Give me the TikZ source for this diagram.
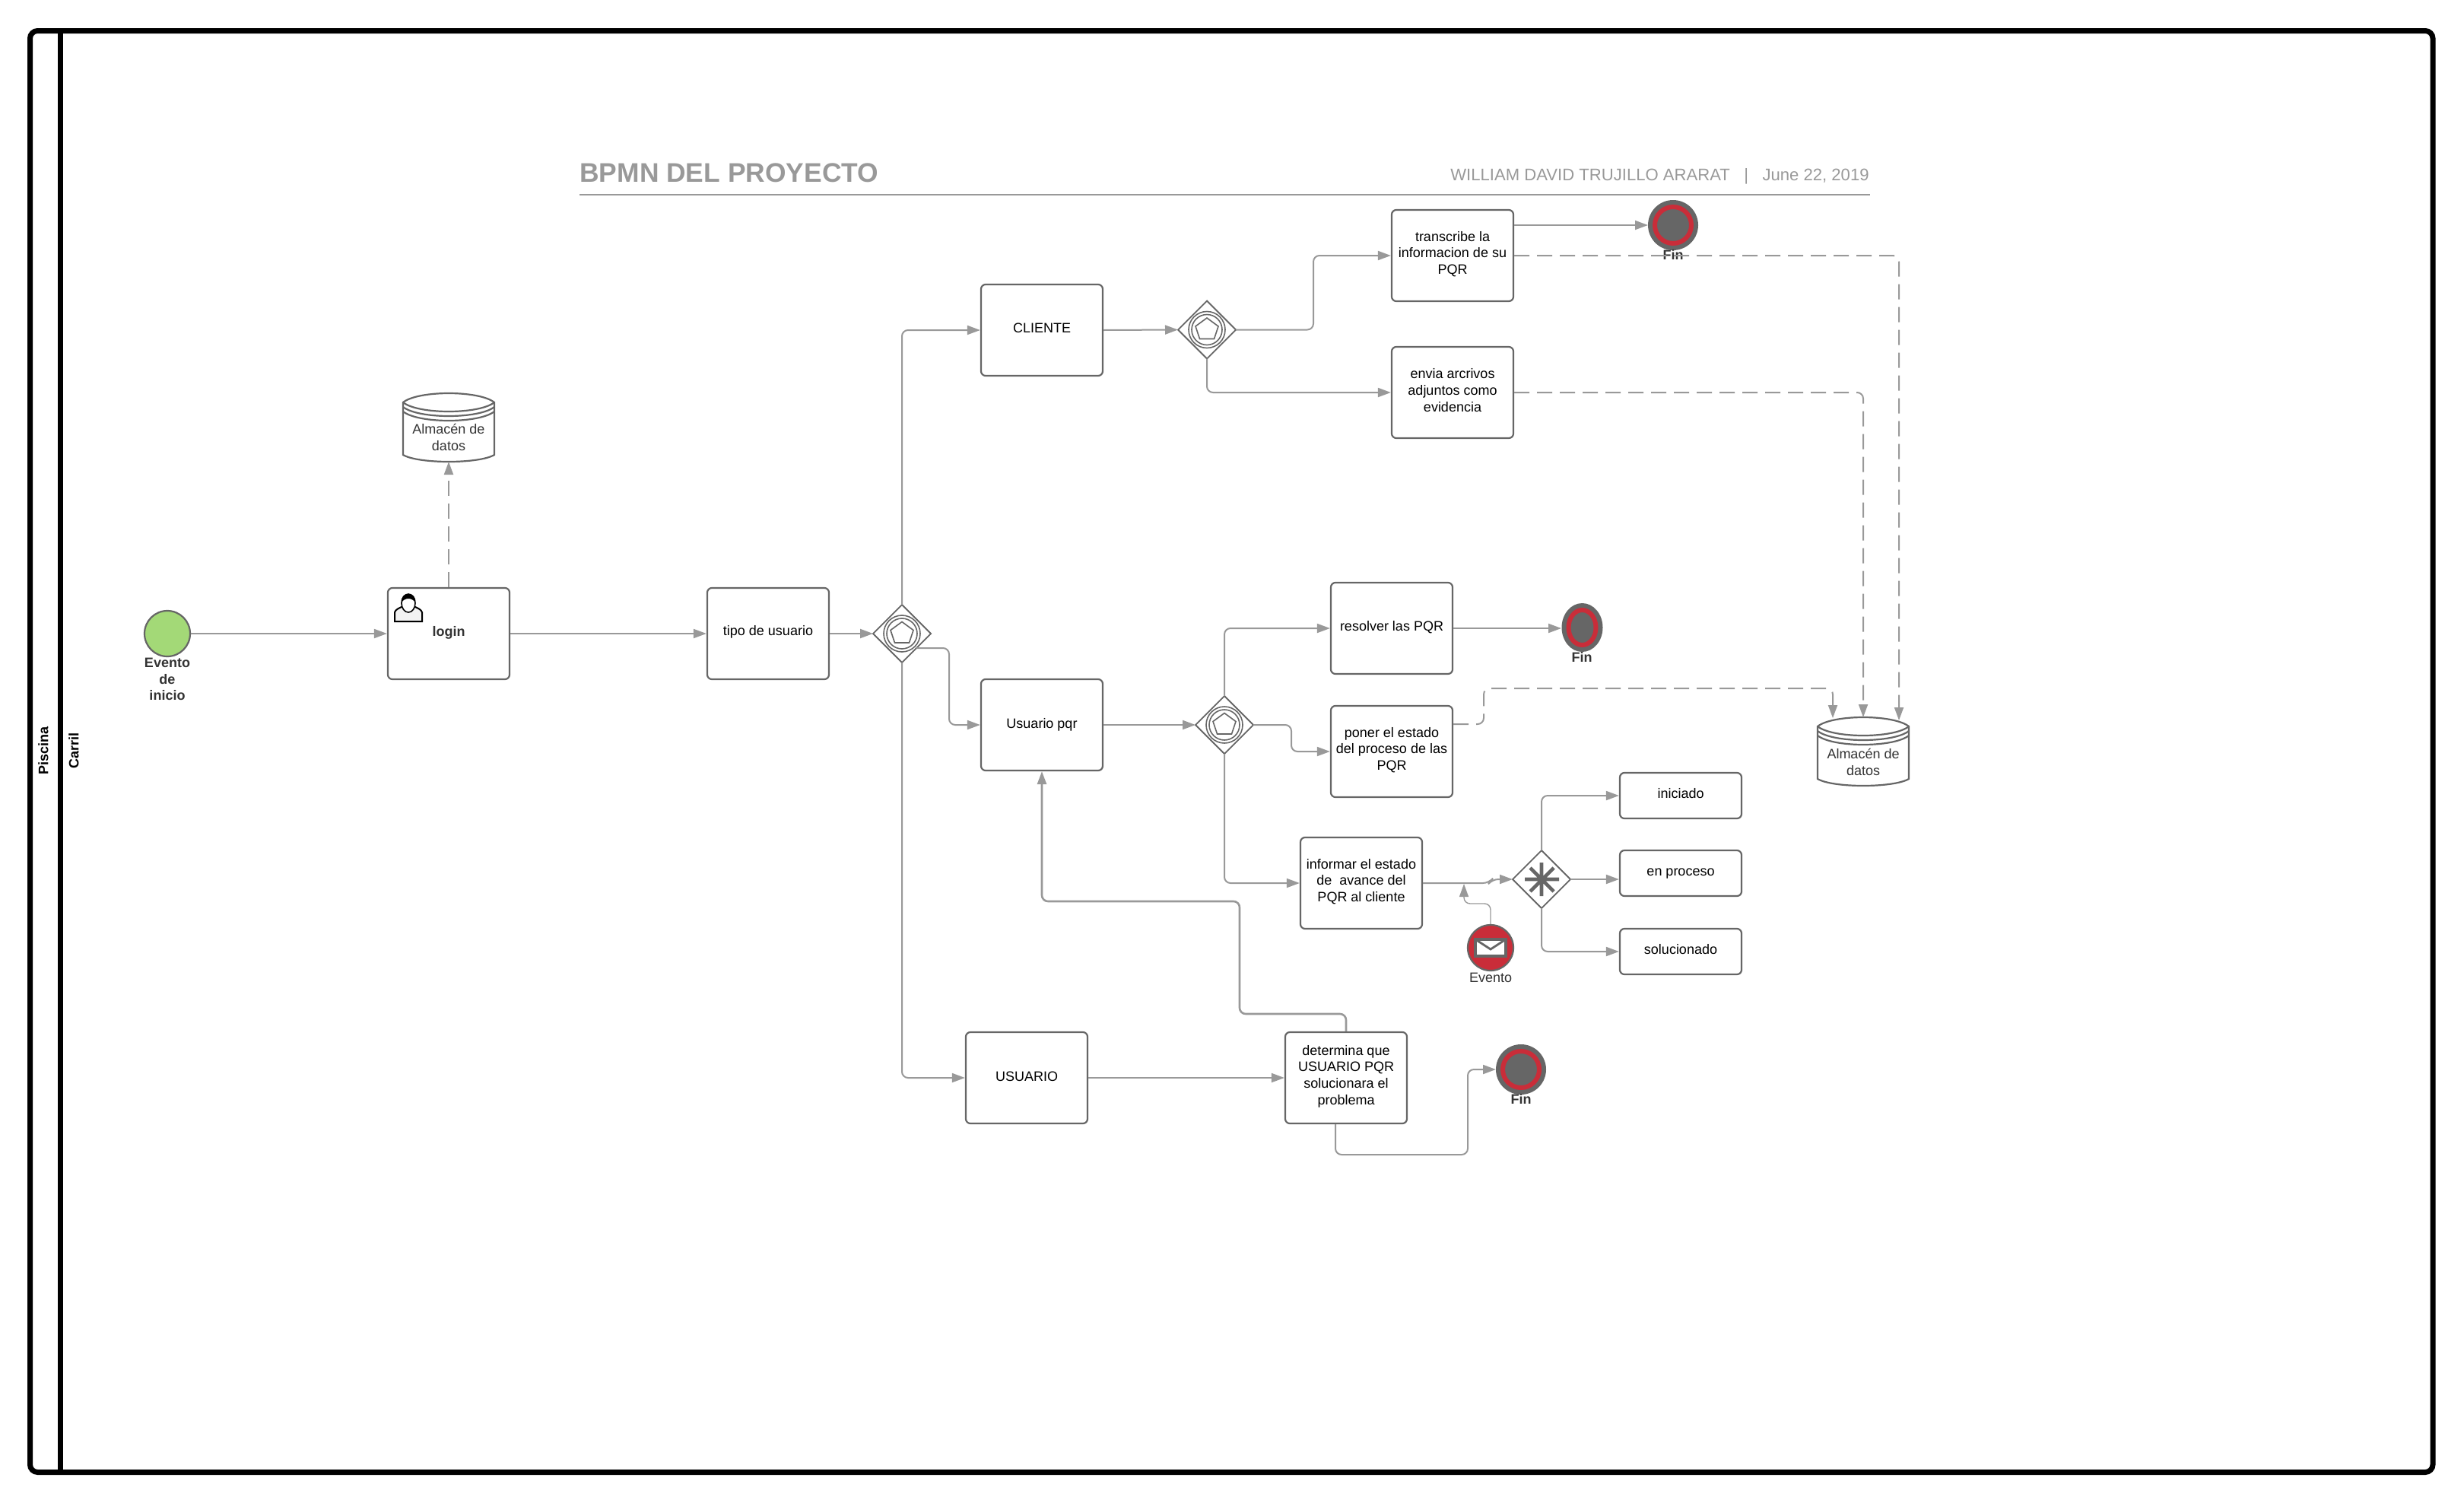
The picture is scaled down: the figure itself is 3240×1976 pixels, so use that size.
\documentclass[tikz,border=0pt]{standalone}
\usepackage{fontspec}
\setmainfont{Liberation Sans}
\usetikzlibrary{arrows.meta}
\definecolor{edgeg}{HTML}{666666}
\definecolor{lineg}{HTML}{999999}
\definecolor{redev}{HTML}{C92D39}
\definecolor{txtd}{HTML}{333333}
\definecolor{startg}{HTML}{A3D977}
\tikzset{
  x=0.5pt,y=-0.5pt,
  taskbox/.style={draw=edgeg,line width=1.1pt,rounded corners=3pt,fill=white,inner sep=0pt,minimum width=80pt,minimum height=60pt},
  shortbox/.style={taskbox,minimum height=30pt},
  flow/.style={draw=lineg,line width=1pt,rounded corners=4pt,-{Triangle[length=8.5pt,width=6pt,fill=lineg]}},
  assoc/.style={flow,dash pattern=on 10pt off 5pt},
  gate/.style={draw=edgeg,line width=0.9pt,fill=white},
  lab/.style={inner sep=0pt,align=center,font=\fontsize{9}{10.8}\selectfont,text=txtd},
  blab/.style={lab,font=\fontsize{9}{10.8}\selectfont\bfseries},
  tlab/.style={lab,text=black},
  swim/.style={draw=black,line width=3.5pt},
}
\newcommand{\gatewayat}[3]{% name x y
  \path[gate] (#2-38,#3) -- (#2,#3-38) -- (#2+38,#3) -- (#2,#3+38) -- cycle;
  \coordinate (#1) at (#2,#3);
}
\newcommand{\pentagate}[2]{%
  \draw[edgeg,line width=0.8pt] (#1,#2) circle [radius=24];
  \draw[edgeg,line width=0.8pt] (#1,#2) circle [radius=20];
  \draw[edgeg,line width=0.8pt] (#1,#2-15.5) -- (#1+15,#2-4.5) -- (#1+9.5,#2+12) -- (#1-9.5,#2+12) -- (#1-15,#2-4.5) -- cycle;
}
\newcommand{\storeat}[2]{% cx top
  \path[draw=edgeg,line width=1.1pt,fill=white] (#1-60,#2+12) -- (#1-60,#2+81) .. controls (#1-40,#2+93) and (#1+40,#2+93) .. (#1+60,#2+81) -- (#1+60,#2+12) .. controls (#1+40,#2-4) and (#1-40,#2-4) .. (#1-60,#2+12) -- cycle;
  \draw[edgeg,line width=1.1pt] (#1-60,#2+12) .. controls (#1-40,#2+28) and (#1+40,#2+28) .. (#1+60,#2+12);
  \draw[edgeg,line width=1.1pt] (#1-60,#2+18) .. controls (#1-40,#2+34) and (#1+40,#2+34) .. (#1+60,#2+18);
  \draw[edgeg,line width=1.1pt] (#1-60,#2+24) .. controls (#1-40,#2+40) and (#1+40,#2+40) .. (#1+60,#2+24);
}
\newcommand{\finevent}[4]{% cx cy rx ry
  \fill[edgeg] (#1,#2) ellipse [x radius=#3,y radius=#4];
  \draw[redev,line width=3pt] (#1,#2) ellipse [x radius=#3-9,y radius=#4-9];
}
\begin{document}
\begin{tikzpicture}
\useasboundingbox (0,0) rectangle (3240,1976);
% swimlane frame
\draw[swim,rounded corners=5pt] (39.5,40.5) rectangle (3199,1935.5);
\draw[swim] (79.5,40.5) -- (79.5,1935.5);
\node[rotate=90,inner sep=0pt,font=\fontsize{9}{10.8}\selectfont\bfseries] (piscina) at (57,987) {Piscina};
\node[rotate=90,inner sep=0pt,font=\fontsize{9}{10.8}\selectfont\bfseries] (carril) at (97,987) {Carril};
% title
\node[anchor=base west,inner sep=0pt,font=\fontsize{17.7}{20}\selectfont\bfseries,text=lineg] (title) at (762,239) {BPMN DEL PROYECTO};
\node[anchor=base east,inner sep=0pt,font=\fontsize{11.05}{13}\selectfont,text=lineg] (meta) at (2458,237) {WILLIAM DAVID TRUJILLO ARARAT\ \ \ |\ \ \ June 22, 2019};
\draw[lineg,line width=1.1pt] (762,256) -- (2459,256);
% events
\node[draw=edgeg,line width=1.1pt,fill=startg,circle,minimum size=30pt,inner sep=0pt] (start) at (220,833) {};
\node[blab] (startl) at (220,893) {Evento\\de\\inicio};
% tasks
\node[taskbox] (login) at (590,833) {};
\node[blab] (loginl) at (590,832) {login};
\node[taskbox] (tipo) at (1010,833) {};
\node[tlab] (tipol) at (1010,831) {tipo de usuario};
\node[taskbox] (cliente) at (1370,434) {};
\node[tlab] (clientel) at (1370,431) {CLIENTE};
\node[taskbox] (pqr) at (1370,953) {};
\node[tlab] (pqrl) at (1370,952.5) {Usuario pqr};
\node[taskbox] (usuario) at (1350,1417) {};
\node[tlab] (usuariol) at (1350,1415) {USUARIO};
\node[taskbox] (transc) at (1910,336) {};
\node[tlab] (transcl) at (1910,334) {transcribe la\\informacion de su\\PQR};
\node[taskbox] (envia) at (1910,516) {};
\node[tlab] (enval) at (1910,513) {envia arcrivos\\adjuntos como\\evidencia};
\node[taskbox] (resolver) at (1830,826) {};
\node[tlab] (resolverl) at (1830,825) {resolver las PQR};
\node[taskbox] (poner) at (1830,988) {};
\node[tlab] (ponerl) at (1830,986) {poner el estado\\del proceso de las\\PQR};
\node[taskbox] (informar) at (1790,1161) {};
\node[tlab] (informarl) at (1790,1159) {informar el estado\\de\ \ avance del\\PQR al cliente};
\node[taskbox] (determina) at (1770,1417) {};
\node[tlab] (determinal) at (1770,1415) {determina que\\USUARIO PQR\\solucionara el\\problema};
\node[shortbox] (iniciado) at (2210,1046) {};
\node[tlab] (iniciadol) at (2210,1043) {iniciado};
\node[shortbox] (proceso) at (2210,1148) {};
\node[tlab] (procesol) at (2210,1149) {en proceso};
\node[shortbox] (soluc) at (2210,1251) {};
\node[tlab] (solucl) at (2210,1248) {solucionado};
% user icon on login
\draw[black,line width=1pt,fill=white!95!black] (519,817) -- (519,805) .. controls (520,801) and (526,799) .. (530,797) -- (544,797) .. controls (548,799) and (554,801) .. (555,805) -- (555,817) -- cycle;
\draw[black,line width=0.8pt,fill=white] (537,793) ellipse [x radius=9,y radius=12];
\fill[black] (528,792) .. controls (526,777) and (548,777) .. (546,792) .. controls (544,789) and (541,787) .. (537,787) .. controls (533,787) and (530,789) .. (528,792) -- cycle;
% gateways
\gatewayat{g1}{1186}{833}\pentagate{1186}{833}
\gatewayat{g2}{1610}{953}\pentagate{1610}{953}
\gatewayat{g3}{1587}{433.5}\pentagate{1587}{433.5}
\gatewayat{g4}{2027}{1156}
\draw[edgeg,line width=2.3pt] (2005,1156) -- (2050,1156) (2027,1134) -- (2027,1178) (2012,1141) -- (2043,1172) (2043,1141) -- (2012,1172);
\coordinate (g1w) at (1148,833); \coordinate (g1n) at (1186,795); \coordinate (g1s) at (1186,871); \coordinate (g1e) at (1205,852);
\coordinate (g2w) at (1572,953); \coordinate (g2n) at (1610,915); \coordinate (g2s) at (1610,991); \coordinate (g2e) at (1648,953);
\coordinate (g3w) at (1549,433.5); \coordinate (g3e) at (1625,433.5); \coordinate (g3s) at (1587,471.5);
\coordinate (g4w) at (1989,1156); \coordinate (g4n) at (2027,1118); \coordinate (g4s) at (2027,1194); \coordinate (g4e) at (2065,1156);
% stores
\storeat{590}{517}
\storeat{2450}{943}
\coordinate (st1b) at (590,607);
\coordinate (st2a) at (2410,944); \coordinate (st2b) at (2450,943); \coordinate (st2c) at (2497,947);
\node[lab] (st1l) at (590,575) {Almacén de\\datos};
\node[lab] (st2l) at (2450,1002) {Almacén de\\datos};
% ends
\finevent{2200}{296}{33}{33}
\finevent{2080.5}{825}{27}{32}
\finevent{2000}{1406}{33}{33}
\coordinate (fin1) at (2167,296); \coordinate (fin2) at (2053,826); \coordinate (fin3) at (1967,1406);
\node[blab] (fin1l) at (2200,335) {Fin};
\node[blab] (fin2l) at (2080,864) {Fin};
\node[blab] (fin3l) at (2000,1445) {Fin};
% message event
\node[circle,draw=edgeg,line width=1.1pt,fill=redev,minimum size=30pt,inner sep=0pt] (msg) at (1960,1246) {};
\draw[edgeg,line width=1.8pt,fill=white] (1940,1235) rectangle (1980,1257);
\draw[edgeg,line width=1.4pt] (1940,1235) -- (1960,1248) -- (1980,1235);
\node[lab] (msgl) at (1960,1285) {Evento};
% flows
\draw[flow] (start) -- (login);
\draw[flow] (login) -- (tipo);
\draw[flow] (tipo) -- (g1w);
\draw[assoc] (login.north) -- (st1b);
\draw[flow] (g1n) |- (cliente.west);
\draw[flow] (g1e) -| (1248,953) -- (pqr.west);
\draw[flow] (g1s) |- (usuario.west);
\draw[flow] (cliente.east) -- (g3w);
\draw[flow] (g3e) -| (1727,336) -- (transc.west);
\draw[flow] (g3s) |- (envia.west);
\draw[flow] (transc.east |- 0,296) -- (fin1);
\draw[assoc] (transc.east) -| (st2c);
\draw[assoc] (envia.east) -| (st2b);
\draw[flow] (pqr.east) -- (g2w);
\draw[flow] (g2n) |- (resolver.west);
\draw[flow] (g2e) -| (1698,988) -- (poner.west);
\draw[flow] (g2s) |- (informar.west);
\draw[flow] (resolver.east) -- (fin2);
\draw[assoc] (poner.east |- 0,952) -| (1951,905) -| (st2a);
\draw[flow] (informar.east) -- (1958,1161) -- (1962,1156) -- (g4w);
\draw[draw=lineg,line width=0.7pt,rounded corners=4pt,-{Triangle[length=8.5pt,width=6pt,fill=lineg]}] (msg.north) |- (1925,1188) -- (1925,1162);
\draw[flow] (g4n) |- (iniciado.west);
\draw[flow] (g4e) -- (proceso.west |- 0,1156);
\draw[flow] (g4s) |- (soluc.west);
\draw[flow] (usuario.east) -- (determina.west);
\draw[flow,line width=1.3pt] (determina.north) |- (1630,1333) |- (1370,1185) -- (pqr.south);
\draw[flow] (determina.south -| 1756,0) |- (1930,1518) |- (fin3);
\end{tikzpicture}
\end{document}
